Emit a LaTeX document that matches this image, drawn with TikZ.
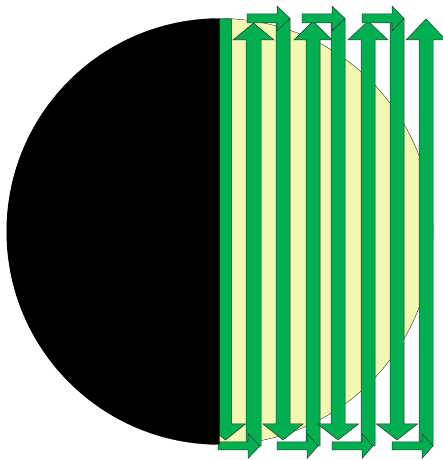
\documentclass[tikz,border=0pt]{standalone}
\usepackage{tikz}
\definecolor{pgreen}{HTML}{00B050}
\definecolor{pyellow}{HTML}{F3F8B0}
\definecolor{edgec}{HTML}{303030}
\tikzset{
  arw/.style={fill=pgreen, draw=edgec, line width=0.5pt, line join=miter},
  disc/.style={fill=pyellow, draw=edgec, line width=0.4pt}
}
% up arrow: #1 centre x, #2 shaft half width, #3 head half width, #4 shaft bottom, #5 head base, #6 tip
\newcommand\UpArw[6]{\draw[arw] ({#1-#2},#4) -- ({#1-#2},#5) -- ({#1-#3},#5) -- (#1,#6) -- ({#1+#3},#5) -- ({#1+#2},#5) -- ({#1+#2},#4) -- cycle;}
% right arrow: #1 start x, #2 head base x, #3 tip x, #4 centre y, #5 shaft half, #6 head half
\newcommand\RtArw[6]{\draw[arw] (#1,{#4-#5}) -- (#2,{#4-#5}) -- (#2,{#4-#6}) -- (#3,#4) -- (#2,{#4+#6}) -- (#2,{#4+#5}) -- (#1,{#4+#5}) -- cycle;}
\begin{document}
\begin{tikzpicture}[x=1pt,y=1pt]
\useasboundingbox (0,0) rectangle (443,460);
% yellow disc
\draw[disc] (220,228.5) circle[radius=213];
% vertical arrows (down arrows use reversed y values)
\UpArw{225.5}{6}{20}{441}{36}{20}
\UpArw{253.5}{7.5}{20.5}{14}{420}{437}
\UpArw{283}{7}{20}{441}{36}{20}
\UpArw{313}{7}{19}{14}{420}{439}
\UpArw{338}{7}{20.5}{441}{36}{20}
\UpArw{368}{7}{20}{14}{420}{439}
\UpArw{397}{7}{20.5}{441}{36}{20}
\UpArw{426}{7}{20}{14}{420}{441}
% top connectors
\RtArw{247}{277}{290}{441.5}{4.5}{12.5}
\RtArw{302}{332}{345}{441.5}{4.5}{12.5}
\RtArw{362}{392}{404}{441.5}{4.5}{12.5}
% bottom connectors
\RtArw{218}{248}{260}{14}{4}{12.5}
\RtArw{277}{307}{318}{14}{4}{12.5}
\RtArw{332}{362}{373}{14}{4}{12.5}
\RtArw{392}{422}{433}{14}{4}{12.5}
% black half disc
\fill[black] (219.5,441.5) arc[start angle=90,end angle=270,radius=213] -- cycle;
\end{tikzpicture}
\end{document}
